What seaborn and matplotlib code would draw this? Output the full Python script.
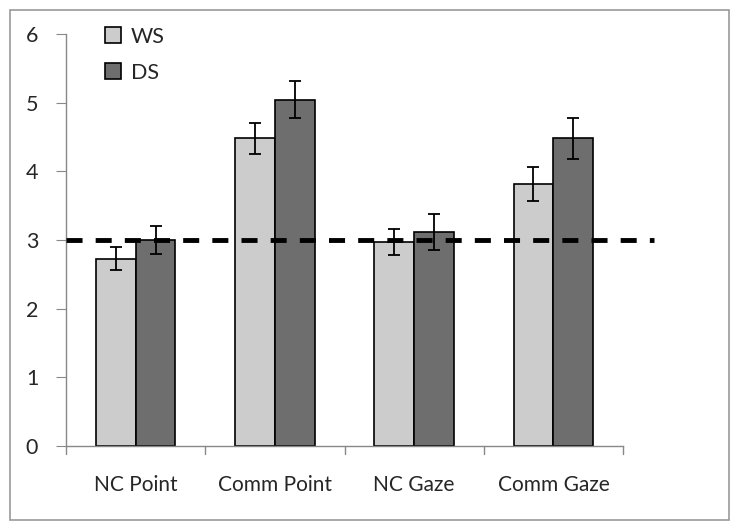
import matplotlib
matplotlib.use("Agg")
import matplotlib.pyplot as plt
import seaborn as sns
import pandas as pd
from matplotlib.patches import Rectangle

# valores
categories = ["NC Point", "Comm Point", "NC Gaze", "Comm Gaze"]
groups = ["WS", "DS"]
ws_means = [2.73, 4.48, 2.97, 3.82]
ds_means = [3.00, 5.04, 3.12, 4.48]
ws_err = [0.17, 0.23, 0.19, 0.25]
ds_err = [0.20, 0.27, 0.26, 0.30]
chance_level = 3
y_ticks = [0, 1, 2, 3, 4, 5, 6]

df = pd.DataFrame({
    "category": categories * 2,
    "group": ["WS"] * 4 + ["DS"] * 4,
    "mean": ws_means + ds_means,
    "err": ws_err + ds_err,
})

sns.set_style("white")
plt.rcParams["font.family"] = ["Lato", "DejaVu Sans"]

fig = plt.figure(figsize=(7.40, 5.31), dpi=100)
ax = fig.add_axes([66 / 740, 85 / 531, 557 / 740, 412 / 531])

sns.barplot(data=df, x="category", y="mean", hue="group", order=categories,
            hue_order=groups, palette=["#cccccc", "#6e6e6e"], width=0.572,
            edgecolor="black", linewidth=1.2, errorbar=None, ax=ax)

# barras de erro nos centros das barras
bars = [p for p in ax.patches if p.get_height() > 0]
bars = sorted(bars, key=lambda p: p.get_x())
errs = [e for pair in zip(ws_err, ds_err) for e in pair]
for p, e in zip(bars, errs):
    x = p.get_x() + p.get_width() / 2
    ax.errorbar(x, p.get_height(), yerr=e, fmt="none", ecolor="black",
                elinewidth=1.3, capsize=4, capthick=1.3, zorder=5)

# linha de acaso
ax.plot([-0.5, 3.72], [chance_level, chance_level], color="black", lw=3.5,
        dashes=[3.3, 2.7], clip_on=False, zorder=6)

ax.set_xlim(-0.5, 3.5)
ax.set_ylim(0, 6)
ax.set_yticks(y_ticks)
ax.set_xlabel("")
ax.set_ylabel("")
ax.tick_params(axis="y", labelsize=15.5, length=7, color="#888888",
               direction="out", left=True, pad=13)
ax.tick_params(axis="x", labelsize=15, length=0, pad=21)
# marcas entre categorias no eixo x
for xb in [-0.5, 0.5, 1.5, 2.5, 3.5]:
    ax.plot([xb, xb], [0, -0.11], color="#888888", lw=1, clip_on=False)

for s in ["top", "right"]:
    ax.spines[s].set_visible(False)
for s in ["left", "bottom"]:
    ax.spines[s].set_color("#888888")
    ax.spines[s].set_linewidth(1)

leg = ax.legend(loc="upper left", bbox_to_anchor=(0.035, 1.065), frameon=False,
                fontsize=15.5, handlelength=0.75, handleheight=0.75,
                handletextpad=0.45, labelspacing=0.75)

fig.patches.append(Rectangle((10 / 740, 11 / 531), 719 / 740, 510 / 531,
                             transform=fig.transFigure, fill=False,
                             edgecolor="#999999", lw=1.2))

fig.savefig("out.png", dpi=100)
